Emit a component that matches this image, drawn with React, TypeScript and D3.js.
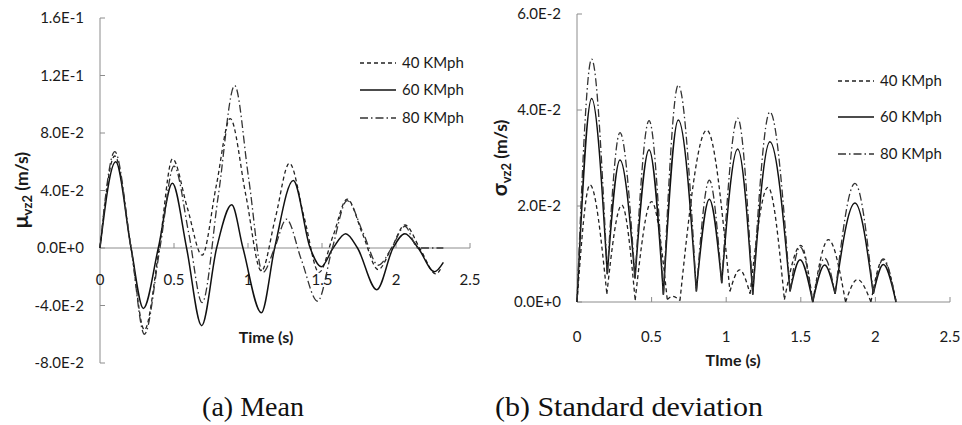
import React from "react";
import * as d3 from "d3";

// ---------- DATA ----------
const seriesNames = ["40 KMph", "60 KMph", "80 KMph"];
const xTicks = [0, 0.5, 1, 1.5, 2, 2.5];
const meanYTicks = [-0.08, -0.04, 0, 0.04, 0.08, 0.12, 0.16];
const meanYTickLabels = ["-8.0E-2", "-4.0E-2", "0.0E+0", "4.0E-2", "8.0E-2", "1.2E-1", "1.6E-1"];
const stdYTicks = [0, 0.02, 0.04, 0.06];
const stdYTickLabels = ["0.0E+0", "2.0E-2", "4.0E-2", "6.0E-2"];

// Mean (t, value)
const mean40: [number, number][] = [
  [0, 0], [0.1, 0.064], [0.21, 0], [0.3, -0.057], [0.4, 0], [0.49, 0.062], [0.59, 0.028],
  [0.69, -0.005], [0.785, 0.043], [0.88, 0.09], [0.985, 0.037], [1.09, -0.016], [1.185, 0.021],
  [1.28, 0.059], [1.38, 0.021], [1.48, -0.017], [1.575, 0.0085], [1.67, 0.034], [1.775, 0.0095],
  [1.88, -0.015], [1.97, 0], [2.06, 0.016], [2.165, -0.001], [2.27, -0.018], [2.31, -0.013],
];
const mean60: [number, number][] = [
  [0, 0], [0.106, 0.06], [0.21, 0], [0.293, -0.042], [0.394, 0], [0.489, 0.045], [0.585, 0],
  [0.687, -0.054], [0.788, 0], [0.89, 0.03], [0.966, 0], [1.09, -0.045], [1.18, 0], [1.306, 0.047],
  [1.42, 0], [1.495, -0.013], [1.575, 0], [1.66, 0.01], [1.74, 0], [1.87, -0.029], [1.98, 0],
  [2.06, 0.01], [2.15, 0], [2.26, -0.0165], [2.32, -0.01],
];
const mean80: [number, number][] = [
  [0, 0], [0.1, 0.067], [0.21, 0], [0.3, -0.06], [0.405, 0], [0.5, 0.057], [0.6, 0.01],
  [0.69, -0.038], [0.8, 0.037], [0.91, 0.113], [1.005, 0.048], [1.1, -0.017], [1.18, 0],
  [1.26, 0.02], [1.36, -0.008], [1.47, -0.037], [1.57, 0], [1.67, 0.033], [1.78, 0.01],
  [1.88, -0.012], [1.97, 0], [2.06, 0.015], [2.15, 0], [2.32, 0],
];

// Standard deviation (t, value)
const std40: [number, number][] = [
  [0, 0], [0.087, 0.0244], [0.2, 0.0017], [0.3, 0.0202], [0.39, 0.0004], [0.5, 0.0209],
  [0.605, 0.0005], [0.64, 0.0012], [0.69, 0.0003], [0.87, 0.0358], [1.025, 0.0022],
  [1.09, 0.0067], [1.16, 0.0017], [1.28, 0.0239], [1.39, 0.0005], [1.5, 0.0118], [1.58, 0],
  [1.685, 0.013], [1.8, 0], [1.88, 0.0047], [1.97, 0], [2.05, 0.0088], [2.14, 0],
];
const std60: [number, number][] = [
  [0, 0], [0.098, 0.0424], [0.203, 0.0058], [0.288, 0.0296], [0.389, 0.0049], [0.483, 0.0317],
  [0.579, 0.0015], [0.679, 0.0379], [0.8, 0.0022], [0.887, 0.0214], [0.97, 0.0039],
  [1.077, 0.0319], [1.178, 0.0015], [1.293, 0.0334], [1.428, 0.0022], [1.495, 0.0088],
  [1.58, 0], [1.66, 0.0077], [1.73, 0.0017], [1.863, 0.0206], [1.986, 0.0017], [2.053, 0.0078],
  [2.138, 0],
];
const std80: [number, number][] = [
  [0, 0], [0.098, 0.0506], [0.203, 0.0058], [0.288, 0.0353], [0.389, 0.0049], [0.483, 0.0378],
  [0.579, 0.0015], [0.679, 0.0452], [0.8, 0.0022], [0.887, 0.0254], [0.97, 0.0039],
  [1.077, 0.0383], [1.178, 0.0015], [1.293, 0.0396], [1.428, 0.0022], [1.495, 0.0115],
  [1.58, 0], [1.66, 0.0091], [1.73, 0.0017], [1.863, 0.0247], [1.986, 0.0017], [2.053, 0.009],
  [2.138, 0],
];

// ---------- STYLE ----------
const FONT = "Lato, 'Open Sans', sans-serif";
const SERIF = "'Liberation Serif', 'Times New Roman', serif";
const AXIS_COLOR = "#8c8c8c";
const TEXT_COLOR = "#1a1a1a";
const styles = [
  { dash: "4,3", color: "#222", width: 1.3 },
  { dash: "", color: "#111", width: 1.5 },
  { dash: "8,3,1.5,3", color: "#333", width: 1.3 },
];

// split a series at its local minima so each arc is drawn separately (sharp troughs)
function splitAtMinima(s: [number, number][]): [number, number][][] {
  const out: [number, number][][] = [];
  let cur: [number, number][] = [s[0]];
  for (let i = 1; i < s.length; i++) {
    cur.push(s[i]);
    const isMin = i < s.length - 1 && s[i][1] <= s[i - 1][1] && s[i][1] <= s[i + 1][1];
    if (isMin) {
      out.push(cur);
      cur = [s[i]];
    }
  }
  if (cur.length > 1) out.push(cur);
  return out;
}

type PanelProps = {
  x0: number; x1: number; yTop: number; yBottom: number;
  yDomain: [number, number]; yTicks: number[]; yTickLabels: string[];
  series: [number, number][][]; sharp: boolean;
  xLabelY: number; xTitle: string; xTitleX: number; xTitleY: number;
  yTitleSym: string; yTitleX: number; yTitleY: number;
  legendX: number; legendYs: number[];
};

function Panel(p: PanelProps) {
  const x = d3.scaleLinear().domain([0, 2.5]).range([p.x0, p.x1]);
  const y = d3.scaleLinear().domain(p.yDomain).range([p.yBottom, p.yTop]);
  const zeroY = y(0);
  const line = d3
    .line<[number, number]>()
    .x((d) => x(d[0]))
    .y((d) => y(d[1]))
    .curve(d3.curveMonotoneX);
  const pathFor = (s: [number, number][]) =>
    p.sharp ? splitAtMinima(s).map((seg) => line(seg) || "").join("") : line(s) || "";
  return (
    <g>
      {/* y axis */}
      <line x1={p.x0} x2={p.x0} y1={p.yTop} y2={p.yBottom} stroke={AXIS_COLOR} strokeWidth={1} />
      {p.yTicks.map((t, i) => (
        <g key={"yt" + i}>
          <line x1={p.x0} x2={p.x0 + 5} y1={y(t)} y2={y(t)} stroke={AXIS_COLOR} />
          <text x={p.x0 - 16} y={y(t)} dy="0.35em" textAnchor="end" fontFamily={FONT} fontSize={15} fill={TEXT_COLOR}>
            {p.yTickLabels[i]}
          </text>
        </g>
      ))}
      {/* x axis */}
      <line x1={p.x0} x2={p.x1} y1={zeroY} y2={zeroY} stroke={AXIS_COLOR} strokeWidth={1} />
      {xTicks.map((t, i) => (
        <g key={"xt" + i}>
          <line x1={x(t)} x2={x(t)} y1={zeroY} y2={zeroY - 5} stroke={AXIS_COLOR} />
          <text x={x(t)} y={p.xLabelY} dy="0.35em" textAnchor="middle" fontFamily={FONT} fontSize={15} fill={TEXT_COLOR}>
            {String(t)}
          </text>
        </g>
      ))}
      {/* series */}
      {p.series.map((s, i) => (
        <path key={"s" + i} d={pathFor(s)} fill="none" stroke={styles[i].color}
          strokeWidth={styles[i].width} strokeDasharray={styles[i].dash} />
      ))}
      {/* legend */}
      {seriesNames.map((n, i) => (
        <g key={"lg" + i}>
          <line x1={p.legendX} x2={p.legendX + 36} y1={p.legendYs[i]} y2={p.legendYs[i]}
            stroke={styles[i].color} strokeWidth={styles[i].width} strokeDasharray={styles[i].dash} />
          <text x={p.legendX + 42} y={p.legendYs[i]} dy="0.35em" fontFamily={FONT} fontSize={15} fill={TEXT_COLOR}>
            {n}
          </text>
        </g>
      ))}
      {/* x title */}
      <text x={p.xTitleX} y={p.xTitleY} textAnchor="middle" fontFamily={FONT} fontWeight="bold" fontSize={16} fill={TEXT_COLOR}>
        {p.xTitle}
      </text>
      {/* y title */}
      <text transform={`translate(${p.yTitleX},${p.yTitleY}) rotate(-90)`} textAnchor="middle"
        fontFamily={FONT} fontWeight="bold" fontSize={17.5} fill={TEXT_COLOR}>
        <tspan fontSize={21}>{p.yTitleSym}</tspan>
        <tspan fontSize={13} dy={4}>vz2</tspan>
        <tspan dy={-4}> (m/s)</tspan>
      </text>
    </g>
  );
}

export default function App() {
  return (
    <svg width={962} height={425} style={{ position: "absolute", left: 0, top: 0, background: "#fff" }}>
      <rect x={0} y={0} width={962} height={425} fill="#fff" />
      <Panel
        x0={100} x1={470} yTop={18} yBottom={363}
        yDomain={[-0.08, 0.16]} yTicks={meanYTicks} yTickLabels={meanYTickLabels}
        series={[mean40, mean60, mean80]} sharp={false}
        xLabelY={280} xTitle="Time (s)" xTitleX={266} xTitleY={343}
        yTitleSym="μ" yTitleX={28} yTitleY={190}
        legendX={360} legendYs={[63, 90, 118]}
      />
      <Panel
        x0={577} x1={950} yTop={14} yBottom={302}
        yDomain={[0, 0.06]} yTicks={stdYTicks} yTickLabels={stdYTickLabels}
        series={[std40, std60, std80]} sharp={true}
        xLabelY={337} xTitle="TIme (s)" xTitleX={733} xTitleY={366}
        yTitleSym="σ" yTitleX={507} yTitleY={158}
        legendX={838} legendYs={[81, 117, 154]}
      />
      <text x={253} y={416} textAnchor="middle" fontFamily={SERIF} fontSize={28} fill="#111">
        (a) Mean
      </text>
      <text x={495} y={416} fontFamily={SERIF} fontSize={28} textLength={268} lengthAdjust="spacingAndGlyphs" fill="#111">
        (b) Standard deviation
      </text>
    </svg>
  );
}
